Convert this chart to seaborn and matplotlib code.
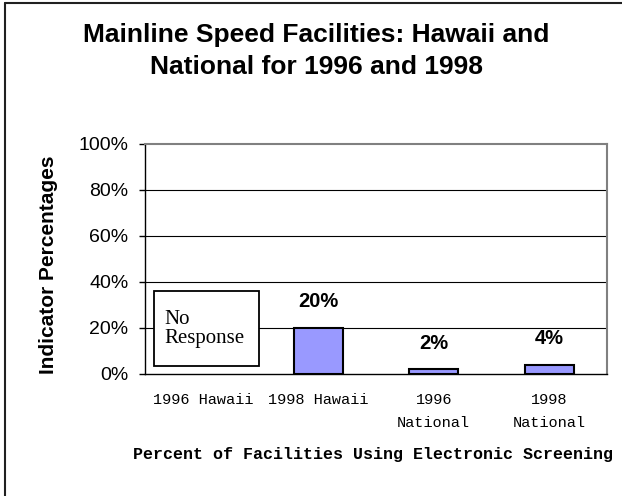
import matplotlib
matplotlib.use("Agg")
import matplotlib.pyplot as plt
import seaborn as sns
import numpy as np
import pandas as pd
from matplotlib.lines import Line2D
from matplotlib.patches import Rectangle

categories = ["1996 Hawaii", "1998 Hawaii", "1996\nNational", "1998\nNational"]
values = [np.nan, 20, 2, 4]
value_labels = ["", "20%", "2%", "4%"]
yticks = [0, 20, 40, 60, 80, 100]
ytick_labels = ["0%", "20%", "40%", "60%", "80%", "100%"]

sns.set_theme(style="white")
plt.rcParams['font.family'] = ['Liberation Sans', 'DejaVu Sans']
plt.rcParams['text.color'] = 'black'
plt.rcParams['xtick.color'] = 'black'
plt.rcParams['ytick.color'] = 'black'
plt.rcParams['xtick.labelcolor'] = 'black'
plt.rcParams['ytick.labelcolor'] = 'black'

W, H = 622, 496
fig = plt.figure(figsize=(W / 100, H / 100), dpi=100)
fig.patch.set_facecolor("white")

ax = fig.add_axes([145 / W, 1 - 374 / H, (607 - 145) / W, (374 - 144) / H])
df = pd.DataFrame({"cat": categories, "val": values})
sns.barplot(data=df, x="cat", y="val", ax=ax, color="#9999FF", saturation=1,
            edgecolor="black", linewidth=1.5, width=0.42, order=categories)

ax.set_ylim(0, 100)
ax.set_xlim(-0.5, len(categories) - 0.5)
ax.set_yticks(yticks)
ax.set_yticklabels(ytick_labels, fontsize=14, color="black")
for y in yticks[1:-1]:
    ax.axhline(y, color="black", lw=0.8, zorder=0)
ax.set_xticks(range(len(categories)))
ax.set_xticklabels(categories, fontsize=11, family=["Liberation Mono"], linespacing=1.75, color="black")
ax.set_xticks(np.arange(-0.5, len(categories)), minor=True)
ax.tick_params(axis="x", which="major", length=0, pad=14)
ax.tick_params(axis="x", which="minor", length=4, width=1, color="black", direction="out")
ax.tick_params(axis="y", length=4, width=1, color="black", direction="out", pad=8, left=True)
ax.set_xlabel("")
ax.set_ylabel("")

for s in ["top", "right"]:
    ax.spines[s].set_color("#808080")
    ax.spines[s].set_linewidth(1.5)
for s in ["left", "bottom"]:
    ax.spines[s].set_color("black")
    ax.spines[s].set_linewidth(1)
    ax.spines[s].set_visible(True)

for i, (v, lab) in enumerate(zip(values, value_labels)):
    if lab:
        ax.annotate(lab, (i, v), xytext=(0, 19), textcoords="offset points",
                    ha="center", va="center", fontsize=14.5, fontweight="bold", color="black")

# No Response box
fig.patches.append(Rectangle((154 / W, 1 - 366 / H), (259 - 154) / W, (366 - 291) / H,
                             transform=fig.transFigure, facecolor="white", edgecolor="black",
                             lw=1.3, zorder=5))
fig.text(164 / W, 1 - 329 / H, "No\nResponse", fontsize=15, family=["Liberation Serif"],
         va="center", ha="left", linespacing=1.05, zorder=6, color="black")

fig.text(316 / W, 1 - 51 / H, "Mainline Speed Facilities: Hawaii and\nNational for 1996 and 1998",
         ha="center", va="center", fontsize=19, fontweight="bold", linespacing=1.42, color="black")
fig.text(48 / W, 1 - 265 / H, "Indicator Percentages", rotation=90, ha="center", va="center",
         fontsize=15, fontweight="bold", color="black")
fig.text(373 / W, 1 - 455 / H, "Percent of Facilities Using Electronic Screening",
         ha="center", va="center", fontsize=12, fontweight="bold", family=["Liberation Mono"],
         color="black")

# outer chart border (left and top edges visible)
fig.add_artist(Line2D([5 / W, 5 / W], [0, 1 - 3 / H], transform=fig.transFigure, color="#202020", lw=1.5))
fig.add_artist(Line2D([5 / W, 1], [1 - 3 / H, 1 - 3 / H], transform=fig.transFigure, color="#202020", lw=1.5))

fig.savefig("out.png", dpi=100)
